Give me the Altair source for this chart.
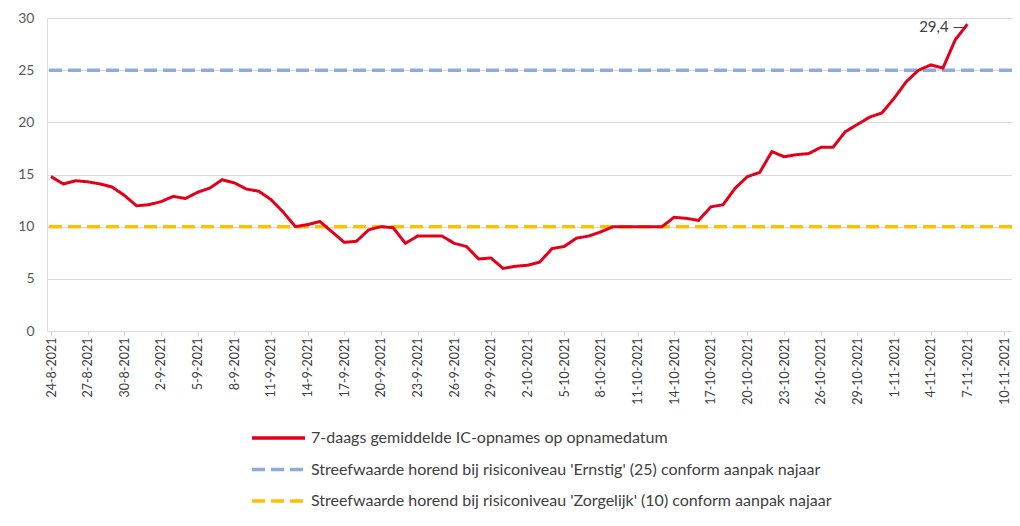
import altair as alt
import pandas as pd

# ---- data ----
start_date = "2021-08-24"
ic_values = [
    14.8, 14.1, 14.4, 14.3, 14.1, 13.8, 13.0, 12.0, 12.1, 12.4,
    12.9, 12.7, 13.3, 13.7, 14.5, 14.2, 13.6, 13.4, 12.6, 11.4,
    10.0, 10.2, 10.5, 9.5, 8.5, 8.6, 9.7, 10.0, 9.9, 8.4,
    9.1, 9.1, 9.1, 8.4, 8.1, 6.9, 7.0, 6.0, 6.2, 6.3,
    6.6, 7.9, 8.1, 8.9, 9.1, 9.5, 10.0, 10.0, 10.0, 10.0,
    10.0, 10.9, 10.8, 10.6, 11.9, 12.1, 13.7, 14.8, 15.2, 17.2,
    16.7, 16.9, 17.0, 17.6, 17.6, 19.1, 19.8, 20.5, 20.9, 22.3,
    23.9, 25.0, 25.5, 25.2, 27.9, 29.4,
]
series_names = [
    "7-daags gemiddelde IC-opnames op opnamedatum",
    "Streefwaarde horend bij risiconiveau 'Ernstig' (25) conform aanpak najaar",
    "Streefwaarde horend bij risiconiveau 'Zorgelijk' (10) conform aanpak najaar",
]
series_colors = ["#E2001A", "#8FAADC", "#FFC000"]
series_dashes = [[1, 0], [13, 6], [13, 6]]
threshold_values = [25, 10]
tick_start = "2021-08-24"
tick_end = "2021-11-10"
y_ticks = [0, 5, 10, 15, 20, 25, 30]

DAY = 86400000


def ms(ts):
    return int(pd.Timestamp(ts).value // 10**6)


dates = pd.date_range(start_date, periods=len(ic_values))
line_df = pd.DataFrame({
    "date": [ms(d) for d in dates],
    "value": ic_values,
    "series": series_names[0],
})
thr_df = pd.DataFrame({"value": threshold_values, "series": series_names[1:]})
last_df = line_df.tail(1).copy()
last_df["label"] = [f"{v:.1f}".replace(".", ",") + " —" for v in last_df["value"]]

tick_values = [ms(d) for d in pd.date_range(tick_start, tick_end, freq="3D")]
x_domain = [ms(tick_start) - 0.33 * DAY, ms(tick_end) + 0.65 * DAY]

FONT = "Lato"
legend = alt.Legend(
    title=None, orient="none", legendX=203, legendY=411, direction="vertical",
    symbolType="stroke", symbolSize=2809, symbolStrokeWidth=3.5,
    labelFontSize=16, labelColor="#404040", labelFont=FONT, labelOffset=4,
    clipHeight=18, rowPadding=13.5, padding=0, labelLimit=800,
)
color = alt.Color("series:N", scale=alt.Scale(domain=series_names, range=series_colors), legend=legend)
dash = alt.StrokeDash("series:N", scale=alt.Scale(domain=series_names, range=series_dashes), legend=legend)

x_scale = alt.Scale(type="utc", domain=x_domain, nice=False)
x_axis = alt.Axis(
    values=tick_values, labelExpr="utcFormat(datum.value, '%-d-%-m-%Y')", labelAngle=-90,
    title=None, grid=False, domainColor="#D9D9D9", tickColor="#D9D9D9", tickSize=4,
    labelColor="#404040", labelFontSize=12.5, labelFont=FONT, labelPadding=2,
    labelOverlap=False, labelBound=False, labelFlush=False,
)
x_enc = alt.X("date:T", scale=x_scale, axis=x_axis)
y_scale = alt.Scale(domain=[0, 30], nice=False)
y_axis = alt.Axis(
    values=y_ticks, title=None, domain=False, ticks=False, grid=True,
    gridColor="#D9D9D9", labelColor="#595959", labelFontSize=14, labelFont=FONT,
    labelPadding=13,
)
y_enc = alt.Y("value:Q", scale=y_scale, axis=y_axis)

rules = alt.Chart(thr_df).mark_rule(strokeWidth=3.5).encode(
    y=y_enc,
    color=color,
    strokeDash=dash,
)
line = alt.Chart(line_df).mark_line(strokeWidth=3).encode(
    x=x_enc,
    y=y_enc,
    color=color,
    strokeDash=dash,
)
label = alt.Chart(last_df).mark_text(
    align="right", baseline="middle", dx=-3, dy=3, fontSize=15, font=FONT, color="#404040"
).encode(
    x=x_enc,
    y=y_enc,
    text="label:N",
)

chart = alt.layer(rules, line, label).properties(
    width=965, height=313,
    autosize=alt.AutoSizeParams(type="none"),
    padding={"left": 39, "top": 10, "right": 0, "bottom": 185},
).configure_view(stroke=None).configure(background="white")

chart.save("out.html", embed_options={"renderer": "svg", "actions": False})
